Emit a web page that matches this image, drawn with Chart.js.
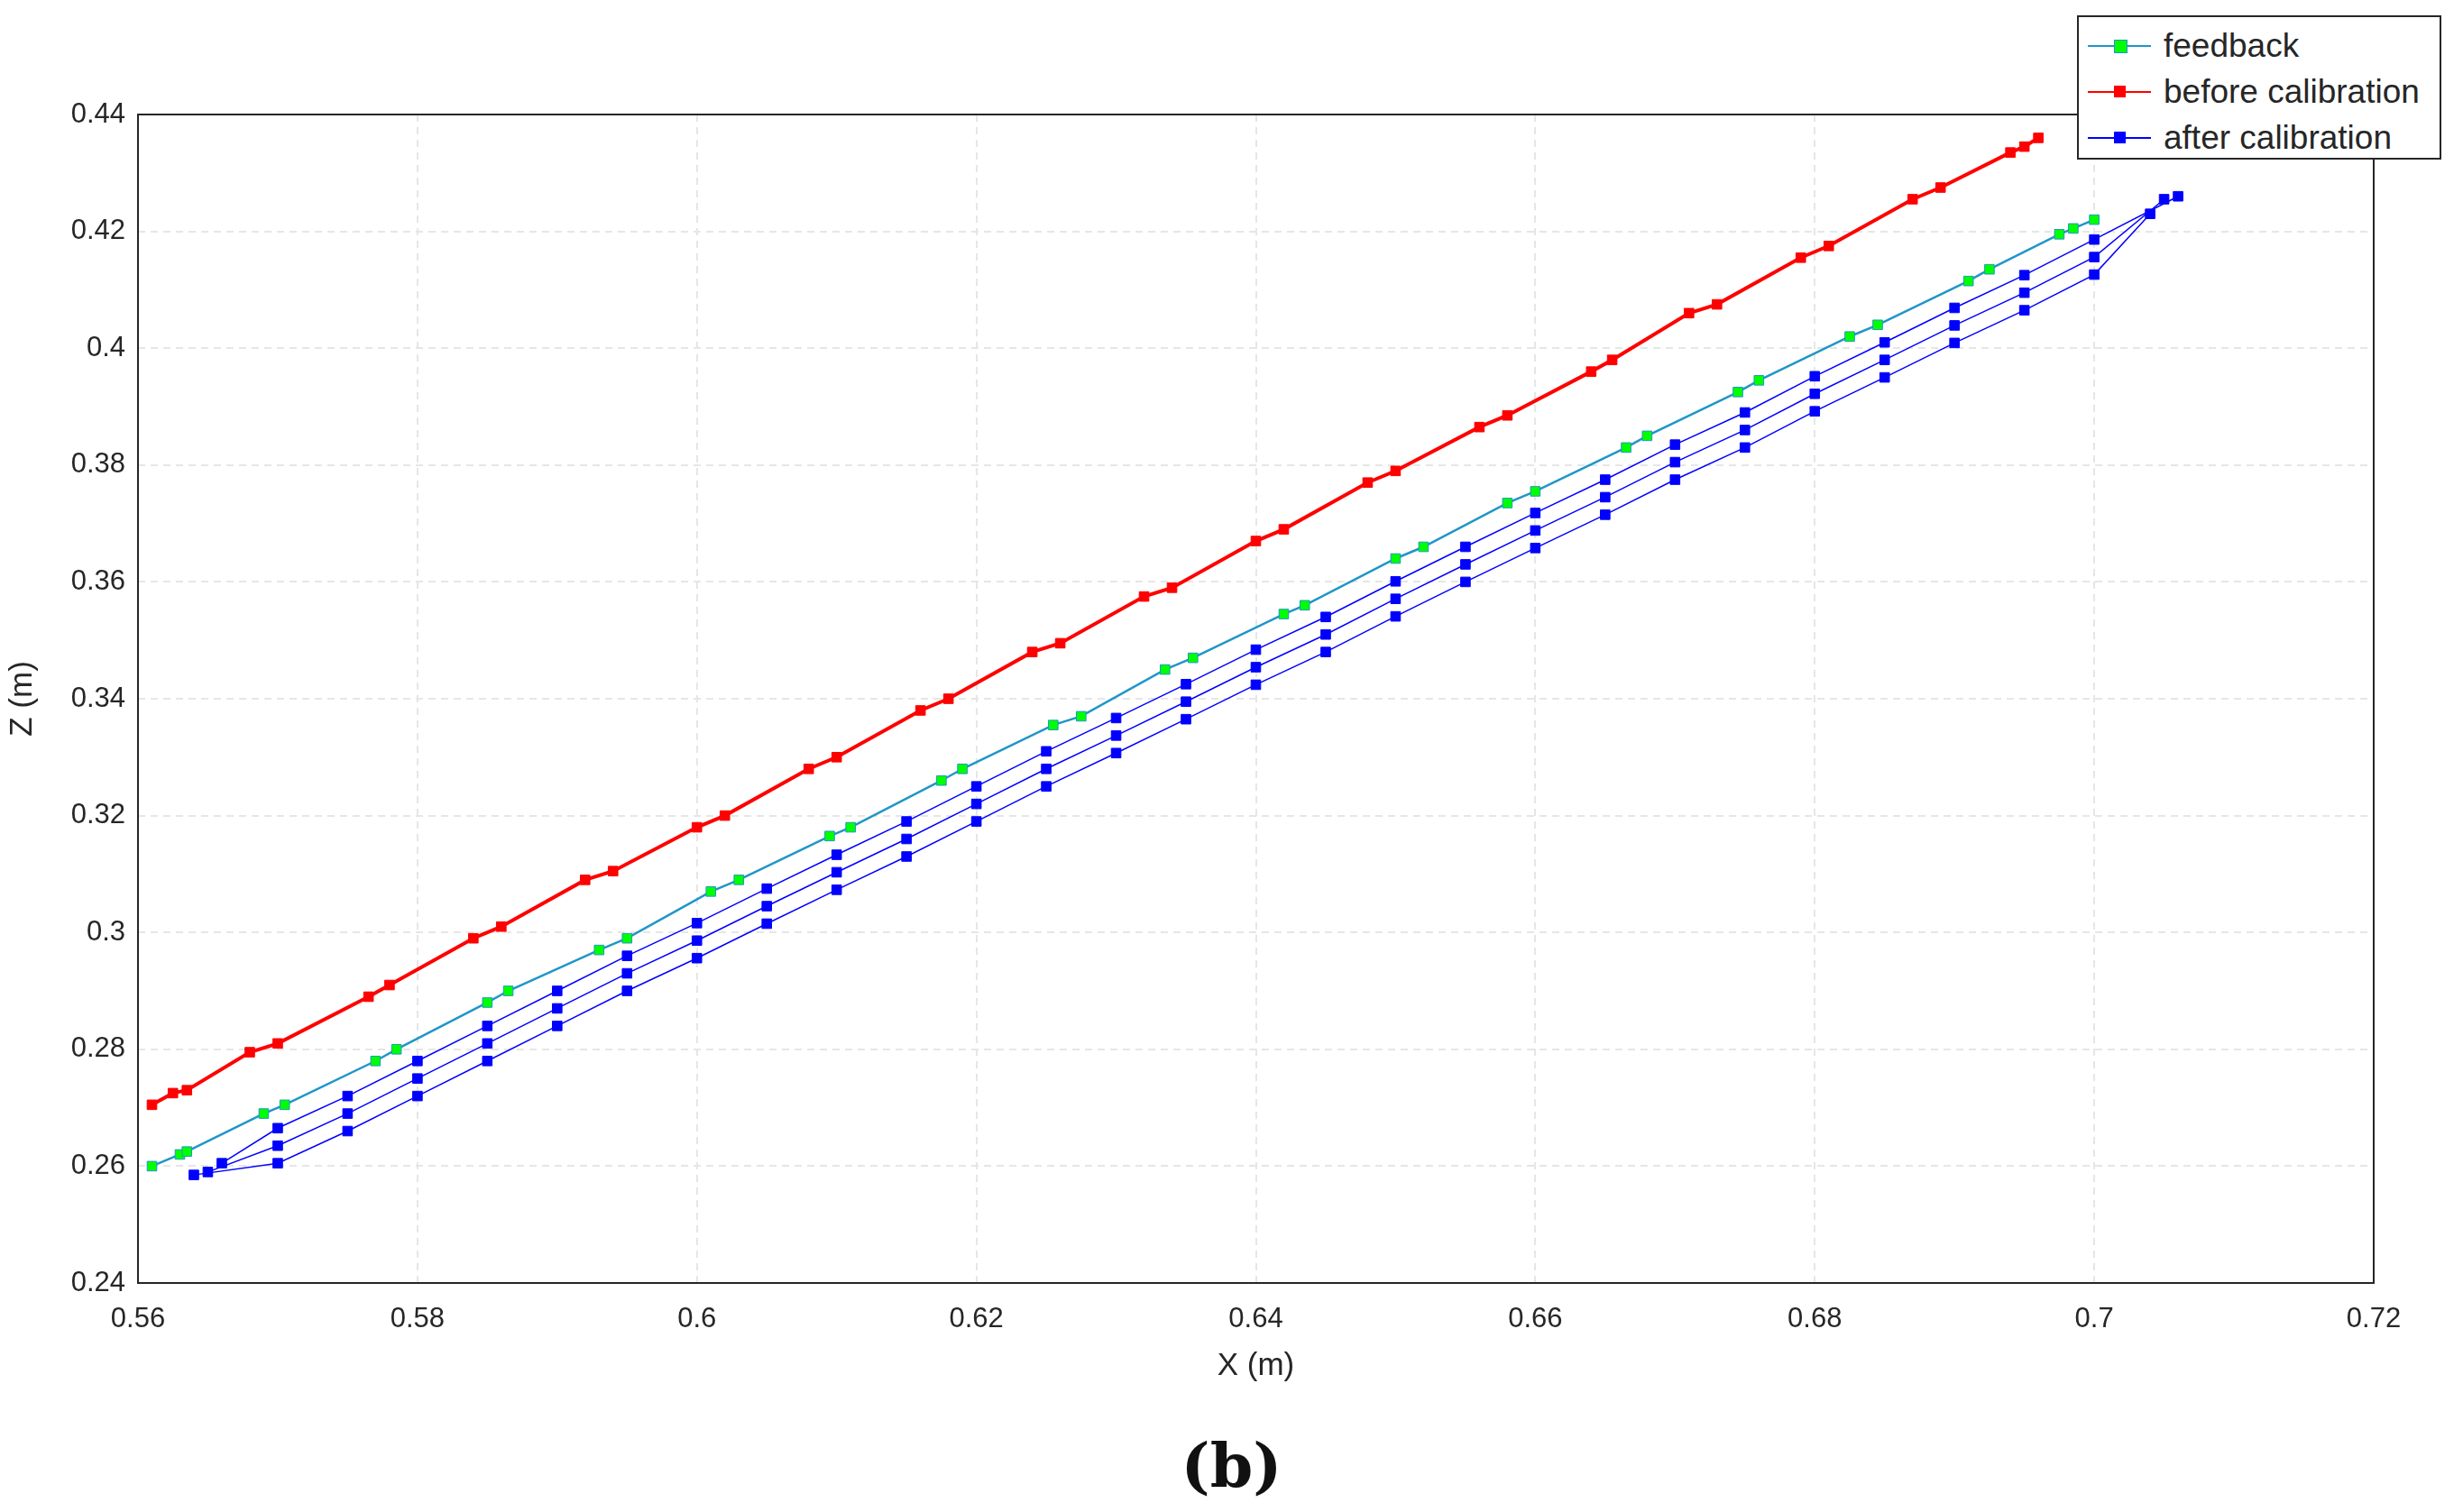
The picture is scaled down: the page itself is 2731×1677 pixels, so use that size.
<!DOCTYPE html>
<html>
<head>
<meta charset="utf-8">
<script src="https://cdn.jsdelivr.net/npm/chart.js@4.4.0/dist/chart.umd.min.js"></script>
<style>
  body { margin: 0; background: #fff; }
  #wrap { position: relative; width: 2731px; height: 1677px; }
  #legend { position: absolute; left: 2303px; top: 17px; width: 404px; height: 160px; border: 2px solid #262626; background: #fff;
    font-family: 'Liberation Sans', Arial, sans-serif; font-size: 37px; color: #262626; box-sizing: border-box; padding-top: 6px; }
  .row { display: flex; align-items: center; height: 51px; }
  .sw { position: relative; width: 70px; height: 20px; margin: 0 14px 0 10px; }
  .sw i { position: absolute; left: 0; right: 0; top: 9px; height: 2px; }
  .sw b { position: absolute; left: 29px; top: 3px; width: 13px; height: 13px; }
  #title { position: absolute; left: 0; width: 2731px; top: 1585px; text-align: center; font-family: 'DejaVu Serif', serif; font-weight: bold; font-size: 68px; color: #111; }
</style>
</head>
<body>
<div id="wrap">
  <canvas id="chart" width="2731" height="1677"></canvas>
  <div id="legend">
    <div class="row"><div class="sw"><i style="background:#1f96c8"></i><b style="background:#00ff00;border:1px solid #1f96c8"></b></div>feedback</div>
    <div class="row"><div class="sw"><i style="background:#ff0000"></i><b style="background:#ff0000"></b></div>before calibration</div>
    <div class="row"><div class="sw"><i style="background:#0000ff"></i><b style="background:#0000ff"></b></div>after calibration</div>
  </div>
  <div id="title">(b)</div>
</div>
<script>
const xTicks = [0.56, 0.58, 0.6, 0.62, 0.64, 0.66, 0.68, 0.7, 0.72];
const zTicks = [0.24, 0.26, 0.28, 0.3, 0.32, 0.34, 0.36, 0.38, 0.4, 0.42, 0.44];

const beforeX = [0.561, 0.5625, 0.5635, 0.568, 0.570, 0.5765, 0.578, 0.584, 0.586, 0.592, 0.594, 0.600, 0.602, 0.608, 0.610, 0.616, 0.618, 0.624, 0.626, 0.632, 0.634, 0.640, 0.642, 0.648, 0.650, 0.656, 0.658, 0.664, 0.6655, 0.671, 0.673, 0.679, 0.681, 0.687, 0.689, 0.694, 0.695, 0.696];
const beforeZ = [0.2705, 0.2725, 0.273, 0.2795, 0.281, 0.289, 0.291, 0.299, 0.301, 0.309, 0.3105, 0.318, 0.320, 0.328, 0.330, 0.338, 0.340, 0.348, 0.3495, 0.3575, 0.359, 0.367, 0.369, 0.377, 0.379, 0.3865, 0.3885, 0.396, 0.398, 0.406, 0.4075, 0.4155, 0.4175, 0.4255, 0.4275, 0.4335, 0.4345, 0.436];

const feedbackX = [0.561, 0.563, 0.5635, 0.569, 0.5705, 0.577, 0.5785, 0.585, 0.5865, 0.593, 0.595, 0.601, 0.603, 0.6095, 0.611, 0.6175, 0.619, 0.6255, 0.6275, 0.6335, 0.6355, 0.642, 0.6435, 0.650, 0.652, 0.658, 0.660, 0.6665, 0.668, 0.6745, 0.676, 0.6825, 0.6845, 0.691, 0.6925, 0.6975, 0.6985, 0.700];
const feedbackZ = [0.260, 0.262, 0.2625, 0.269, 0.2705, 0.278, 0.280, 0.288, 0.290, 0.297, 0.299, 0.307, 0.309, 0.3165, 0.318, 0.326, 0.328, 0.3355, 0.337, 0.345, 0.347, 0.3545, 0.356, 0.364, 0.366, 0.3735, 0.3755, 0.383, 0.385, 0.3925, 0.3945, 0.402, 0.404, 0.4115, 0.4135, 0.4195, 0.4205, 0.422];

const afterX1 = [0.566, 0.570, 0.575, 0.580, 0.585, 0.590, 0.595, 0.600, 0.605, 0.610, 0.615, 0.620, 0.625, 0.630, 0.635, 0.640, 0.645, 0.650, 0.655, 0.660, 0.665, 0.670, 0.675, 0.680, 0.685, 0.690, 0.695, 0.700, 0.706];
const afterZ1 = [0.2605, 0.2665, 0.272, 0.278, 0.284, 0.290, 0.296, 0.3016, 0.3075, 0.3133, 0.319, 0.325, 0.331, 0.3367, 0.3425, 0.3484, 0.354, 0.3601, 0.366, 0.3718, 0.3775, 0.3835, 0.389, 0.3952, 0.401, 0.4069, 0.4125, 0.4186, 0.426];
const afterX2 = [0.565, 0.570, 0.575, 0.580, 0.585, 0.590, 0.595, 0.600, 0.605, 0.610, 0.615, 0.620, 0.625, 0.630, 0.635, 0.640, 0.645, 0.650, 0.655, 0.660, 0.665, 0.670, 0.675, 0.680, 0.685, 0.690, 0.695, 0.700, 0.705];
const afterZ2 = [0.259, 0.2635, 0.269, 0.275, 0.281, 0.287, 0.293, 0.2986, 0.3045, 0.3103, 0.316, 0.322, 0.328, 0.3337, 0.3395, 0.3454, 0.351, 0.3571, 0.363, 0.3688, 0.3745, 0.3805, 0.386, 0.3922, 0.398, 0.4039, 0.4095, 0.4156, 0.4255];
const afterX3 = [0.564, 0.570, 0.575, 0.580, 0.585, 0.590, 0.595, 0.600, 0.605, 0.610, 0.615, 0.620, 0.625, 0.630, 0.635, 0.640, 0.645, 0.650, 0.655, 0.660, 0.665, 0.670, 0.675, 0.680, 0.685, 0.690, 0.695, 0.700, 0.704];
const afterZ3 = [0.2585, 0.2605, 0.266, 0.272, 0.278, 0.284, 0.290, 0.2956, 0.3015, 0.3073, 0.313, 0.319, 0.325, 0.3307, 0.3365, 0.3424, 0.348, 0.3541, 0.360, 0.3658, 0.3715, 0.3775, 0.383, 0.3892, 0.395, 0.4009, 0.4065, 0.4126, 0.423];

const pts = (xs, zs) => xs.map((x, i) => ({ x: x, y: zs[i] }));
const series = (label, data, line, fill, width) => ({
  label: label, data: data, showLine: true, borderColor: line, backgroundColor: fill,
  borderWidth: width, pointStyle: 'rect', pointRadius: 7.5, pointBorderColor: line, pointBorderWidth: 1
});

const boxPlugin = {
  id: 'box',
  afterDraw(chart) {
    const a = chart.chartArea, c = chart.ctx;
    c.save(); c.strokeStyle = '#262626'; c.lineWidth = 2;
    c.strokeRect(a.left, a.top, a.right - a.left, a.bottom - a.top); c.restore();
  }
};

const tickFont = { family: 'Liberation Sans, Arial, sans-serif', size: 31 };
new Chart(document.getElementById('chart'), {
  type: 'scatter',
  data: {
    datasets: [
      series('after calibration', pts(afterX1, afterZ1), '#0000ff', '#0000ff', 1.5),
      series('after calibration', pts(afterX2, afterZ2), '#0000ff', '#0000ff', 1.5),
      series('after calibration', pts(afterX3, afterZ3), '#0000ff', '#0000ff', 1.5),
      series('feedback', pts(feedbackX, feedbackZ), '#1f96c8', '#00ff00', 2.5),
      series('before calibration', pts(beforeX, beforeZ), '#ff0000', '#ff0000', 4)
    ]
  },
  options: {
    responsive: false, animation: false,
    layout: { padding: { top: 127, right: 99, bottom: 137, left: 0 } },
    plugins: { legend: { display: false }, tooltip: { enabled: false } },
    scales: {
      x: {
        min: 0.56, max: 0.72,
        afterBuildTicks: s => { s.ticks = xTicks.map(v => ({ value: v })); },
        afterFit: s => { s.height = 117; },
        ticks: { font: tickFont, color: '#262626', padding: 22, callback: v => String(+v.toFixed(2)), maxRotation: 0 },
        grid: { color: '#e6e6e6', lineWidth: 2, tickLength: 0 },
        border: { dash: [8, 6], display: false },
        title: { display: true, text: 'X (m)', font: { family: 'Liberation Sans, Arial, sans-serif', size: 35 }, color: '#262626' }
      },
      y: {
        min: 0.24, max: 0.44,
        afterBuildTicks: s => { s.ticks = zTicks.map(v => ({ value: v })); },
        afterFit: s => { s.width = 153; },
        ticks: { font: tickFont, color: '#262626', padding: 14, callback: v => String(+v.toFixed(2)) },
        grid: { color: '#e6e6e6', lineWidth: 2, tickLength: 0 },
        border: { dash: [8, 6], display: false },
        title: { display: true, text: 'Z (m)', font: { family: 'Liberation Sans, Arial, sans-serif', size: 35 }, color: '#262626' }
      }
    }
  },
  plugins: [boxPlugin]
});
</script>
</body>
</html>
